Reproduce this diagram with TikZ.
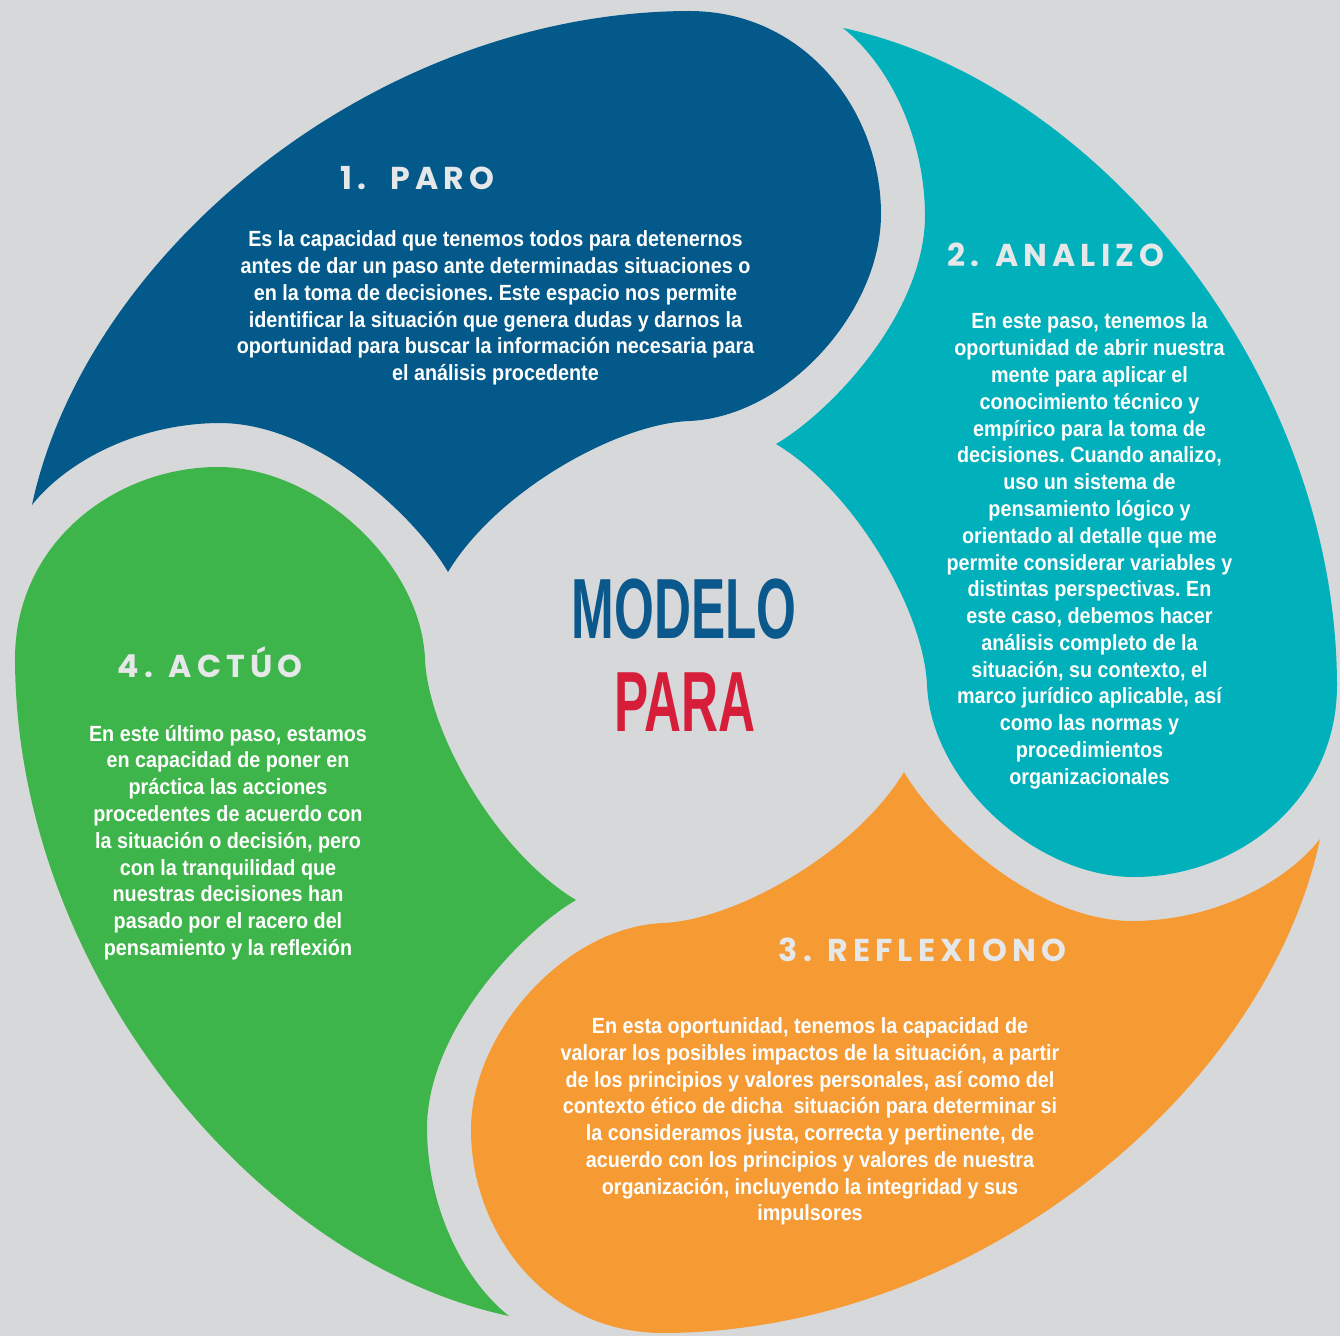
\documentclass[tikz,border=0pt]{standalone}
\usepackage{fontspec}
\setmainfont{Liberation Sans}
\newfontfamily\bodyfont[FakeStretch=0.9]{Liberation Sans}
\newfontfamily\headfont[LetterSpace=16]{Poppins}
\newfontfamily\titlefont[FakeStretch=0.6]{Liberation Sans}

\definecolor{bggray}{HTML}{D7D8DA}
\definecolor{petalblue}{HTML}{035A8A}
\definecolor{petalteal}{HTML}{00B0BA}
\definecolor{petalorange}{HTML}{F69A33}
\definecolor{petalgreen}{HTML}{3EB54A}
\definecolor{headgray}{HTML}{E6E7E8}
\definecolor{titleblue}{HTML}{0B588C}
\definecolor{titlered}{HTML}{D61E3A}

\newcommand{\petalpath}{(-6.44,1.67) .. controls (-5.9,4.2) and (-3.0,6.6) .. (0.13,6.61)
  .. controls (1.3,6.61) and (2.05,5.6) .. (2.05,4.58)
  .. controls (2.05,3.6) and (1.1,2.55) .. (0.13,2.51)
  .. controls (-0.6,2.48) and (-1.8,1.8) .. (-2.28,1.00)
  .. controls (-2.6,1.55) and (-3.6,2.5) .. (-4.58,2.49)
  .. controls (-5.4,2.48) and (-6.1,2.1) .. (-6.44,1.67) -- cycle}

\begin{document}
\begin{tikzpicture}[
    bodytext/.style={text=white, align=center, inner sep=0pt,
      font=\bodyfont\bfseries\frenchspacing\fontsize{6.25}{7.62}\selectfont},
    headtext/.style={text=headgray, inner sep=0pt,
      font=\headfont\bfseries\fontsize{9}{10}\selectfont},
    titletext/.style={inner sep=0pt,
      font=\titlefont\bfseries\fontsize{24.3}{26}\selectfont}]
        \useasboundingbox (-6.76,-6.64) rectangle (6.64,6.72);
        \fill[bggray] (-6.76,-6.64) rectangle (6.64,6.72);
        \fill[petalblue] \petalpath;
        \fill[petalteal, rotate=-90] \petalpath;
        \fill[petalorange, rotate=-180] \petalpath;
        \fill[petalgreen, rotate=-270] \petalpath;
        \node[headtext] (parohead) at (-2.585,4.94) {1.\ \ PARO};
        \node[bodytext] (parotext) at (-1.805,3.64) {Es la capacidad que tenemos todos para detenernos\\
          antes de dar un paso ante determinadas situaciones o\\
          en la toma de decisiones. Este espacio nos permite\\
          identificar la situación que genera dudas y darnos la\\
          oportunidad para buscar la información necesaria para\\
          el análisis procedente};
        \node[headtext] (analizohead) at (3.80,4.17) {2. ANALIZO};
        \node[bodytext] (analizotext) at (4.135,1.21) {En este paso, tenemos la\\
          oportunidad de abrir nuestra\\
          mente para aplicar el\\
          conocimiento técnico y\\
          empírico para la toma de\\
          decisiones. Cuando analizo,\\
          uso un sistema de\\
          pensamiento lógico y\\
          orientado al detalle que me\\
          permite considerar variables y\\
          distintas perspectivas. En\\
          este caso, debemos hacer\\
          análisis completo de la\\
          situación, su contexto, el\\
          marco jurídico aplicable, así\\
          como las normas y\\
          procedimientos\\
          organizacionales};
        \node[headtext] (reflexionohead) at (2.465,-2.78) {3. REFLEXIONO};
        \node[bodytext] (reflexionotext) at (1.34,-4.495) {En esta oportunidad, tenemos la capacidad de\\
          valorar los posibles impactos de la situación, a partir\\
          de los principios y valores personales, así como del\\
          contexto ético de dicha\ \ situación para determinar si\\
          la consideramos justa, correcta y pertinente, de\\
          acuerdo con los principios y valores de nuestra\\
          organización, incluyendo la integridad y sus\\
          impulsores};
        \node[headtext] (actuohead) at (-4.66,0.10) {4. ACTÚO};
        \node[bodytext] (actuotext) at (-4.48,-1.705) {En este último paso, estamos\\
          en capacidad de poner en\\
          práctica las acciones\\
          procedentes de acuerdo con\\
          la situación o decisión, pero\\
          con la tranquilidad que\\
          nuestras decisiones han\\
          pasado por el racero del\\
          pensamiento y la reflexión};
        \node[titletext, text=titleblue] (modelo) at (0.08,0.625) {MODELO};
        \node[titletext, text=titlered] (para) at (0.09,-0.305) {PARA};
    \end{tikzpicture}
\end{document}
